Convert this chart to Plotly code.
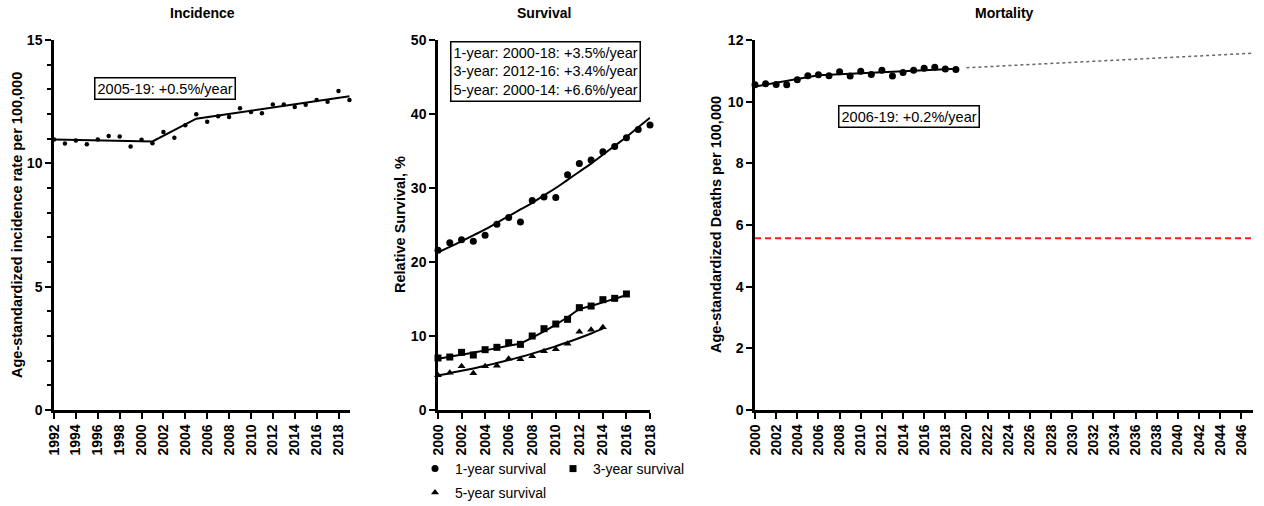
import plotly.graph_objects as go

# ---------------- data ----------------
inc_years = list(range(1992, 2020))
inc_rate = [10.97, 10.80, 10.93, 10.77, 10.97, 11.11, 11.09, 10.68, 10.96, 10.81,
            11.27, 11.04, 11.54, 11.99, 11.69, 11.91, 11.88, 12.23, 12.08, 12.03,
            12.39, 12.39, 12.28, 12.38, 12.57, 12.50, 12.93, 12.57]
inc_fit_years = [1992, 2001, 2005, 2019]
inc_fit = [10.97, 10.89, 11.81, 12.72]

surv1_years = list(range(2000, 2019))
surv1 = [21.6, 22.6, 23.0, 22.8, 23.6, 25.1, 26.0, 25.4, 28.3, 28.8,
         28.7, 31.8, 33.3, 33.8, 34.9, 35.6, 36.8, 37.9, 38.5]
surv1_fit = [21.3, 22.05, 22.8, 23.6, 24.4, 25.3, 26.2, 27.1, 28.0, 29.0,
             30.0, 31.1, 32.2, 33.3, 34.5, 35.7, 36.9, 38.2, 39.5]

surv3_years = list(range(2000, 2017))
surv3 = [7.03, 7.16, 7.79, 7.43, 8.15, 8.47, 9.10, 8.87, 10.0, 10.99,
         11.62, 12.25, 13.83, 14.05, 14.91, 15.09, 15.68]
surv3_fit = [6.94, 7.2, 7.48, 7.76, 8.06, 8.36, 8.68, 9.0, 9.78, 10.62,
             11.54, 12.53, 13.6, 14.06, 14.54, 15.03, 15.55]

surv5_years = list(range(2000, 2015))
surv5 = [4.7, 5.05, 5.9, 4.95, 5.9, 5.99, 6.94, 6.85, 7.25, 7.93,
         8.2, 8.96, 10.59, 10.86, 11.17]
surv5_fit = [4.68, 4.97, 5.29, 5.62, 5.97, 6.35, 6.75, 7.17, 7.62, 8.1,
             8.61, 9.15, 9.73, 10.34, 10.99]

mort_years = list(range(2000, 2020))
mort = [10.55, 10.58, 10.56, 10.55, 10.71, 10.84, 10.87, 10.84, 10.97, 10.83,
        10.99, 10.88, 11.02, 10.83, 10.95, 11.02, 11.08, 11.12, 11.06, 11.04]
mort_fit_years = [2000, 2006, 2019]
mort_fit = [10.49, 10.86, 11.07]
proj_years = [2020, 2047]
proj = [11.10, 11.57]
target_years = [2000, 2047.1]
target = [5.57, 5.57]

inc_ticks = list(range(1992, 2019, 2))
surv_ticks = list(range(2000, 2019, 2))
mort_ticks = list(range(2000, 2047, 2))

# ---------------- layout helpers ----------------
W, H = 1264, 506
L, R, T, B = 0, 0, 40, 96
PW, PH = W - L - R, H - T - B
FONT = "Arial, Liberation Sans, Helvetica, sans-serif"


def px(x):
    return (x - L) / PW


def py(y):
    return (H - B - y) / PH


fig = go.Figure()

line_style = dict(color="black", width=2)

# Incidence
fig.add_trace(go.Scatter(x=inc_years, y=inc_rate, mode="markers",
                         marker=dict(color="black", size=4.5), xaxis="x", yaxis="y",
                         showlegend=False, cliponaxis=False))
fig.add_trace(go.Scatter(x=inc_fit_years, y=inc_fit, mode="lines", line=line_style,
                         xaxis="x", yaxis="y", showlegend=False, cliponaxis=False))

# Survival
fig.add_trace(go.Scatter(x=surv1_years, y=surv1, mode="markers", name="1-year survival",
                         marker=dict(color="black", size=7, symbol="circle"),
                         xaxis="x2", yaxis="y2", legend="legend", cliponaxis=False))
fig.add_trace(go.Scatter(x=surv3_years, y=surv3, mode="markers", name="3-year survival",
                         marker=dict(color="black", size=7, symbol="square"),
                         xaxis="x2", yaxis="y2", legend="legend", cliponaxis=False))
fig.add_trace(go.Scatter(x=surv5_years, y=surv5, mode="markers", name="5-year survival",
                         marker=dict(color="black", size=7, symbol="triangle-up"),
                         xaxis="x2", yaxis="y2", legend="legend2", cliponaxis=False))
for xs, ys in [(surv1_years, surv1_fit), (surv3_years, surv3_fit), (surv5_years, surv5_fit)]:
    fig.add_trace(go.Scatter(x=xs, y=ys, mode="lines", line=dict(color="black", width=2, shape="spline"),
                             xaxis="x2", yaxis="y2", showlegend=False, cliponaxis=False))

# Mortality
fig.add_trace(go.Scatter(x=target_years, y=target, mode="lines",
                         line=dict(color="#ff1a1a", width=2, dash="6px,4px"),
                         xaxis="x3", yaxis="y3", showlegend=False))
fig.add_trace(go.Scatter(x=proj_years, y=proj, mode="lines",
                         line=dict(color="#666666", width=1.5, dash="dot"),
                         xaxis="x3", yaxis="y3", showlegend=False, cliponaxis=False))
fig.add_trace(go.Scatter(x=mort_years, y=mort, mode="markers",
                         marker=dict(color="black", size=7),
                         xaxis="x3", yaxis="y3", showlegend=False, cliponaxis=False))
fig.add_trace(go.Scatter(x=mort_fit_years, y=mort_fit, mode="lines", line=line_style,
                         xaxis="x3", yaxis="y3", showlegend=False, cliponaxis=False))

tickfont = dict(family=FONT, size=14, color="black", weight="bold")


def xax(domain, rng, ticks):
    return dict(domain=domain, range=rng, tickmode="array", tickvals=ticks,
                ticktext=[str(t) for t in ticks], tickangle=-90,
                showline=True, linecolor="black", linewidth=2.5,
                ticks="outside", ticklen=6, tickwidth=2, tickcolor="black",
                showgrid=False, zeroline=False, tickfont=tickfont, fixedrange=True,
                automargin=False)


def yax(anchor, rng, dtick, minor=None):
    d = dict(anchor=anchor, domain=[0, 1], range=rng, dtick=dtick, tick0=0,
             showline=True, linecolor="black", linewidth=2.5,
             ticks="outside", ticklen=6, tickwidth=2, tickcolor="black",
             showgrid=False, zeroline=False, tickfont=tickfont, fixedrange=True,
             automargin=False)
    if minor:
        d["minor"] = dict(dtick=minor, ticks="outside", ticklen=4, tickwidth=1.5,
                          tickcolor="black", showgrid=False)
    return d


fig.update_layout(
    width=W, height=H,
    margin=dict(l=L, r=R, t=T, b=B, autoexpand=False),
    plot_bgcolor="white", paper_bgcolor="white",
    font=dict(family=FONT, color="black"),
    xaxis=xax([px(54), px(350)], [1992, 2019.05], inc_ticks),
    yaxis=yax("x", [0, 15], 5, minor=1),
    xaxis2=dict(xax([px(438), px(650)], [2000, 2018], surv_ticks), anchor="y2"),
    yaxis2=yax("x2", [0, 50], 10),
    xaxis3=dict(xax([px(755), px(1253)], [2000, 2047.1], mort_ticks), anchor="y3"),
    yaxis3=yax("x3", [0, 12], 2),
    legend=dict(orientation="h", x=px(415), y=py(453), xanchor="left", yanchor="top",
                font=dict(family=FONT, size=14, color="black"), entrywidth=93,
                bgcolor="rgba(0,0,0,0)", itemwidth=30, tracegroupgap=0),
    legend2=dict(orientation="h", x=px(415), y=py(477), xanchor="left", yanchor="top",
                 font=dict(family=FONT, size=14, color="black"),
                 bgcolor="rgba(0,0,0,0)", itemwidth=30),
)

ann = []
titlefont = dict(family=FONT, size=14, color="black", weight="bold")
for text, cx in [("Incidence", 202), ("Survival", 544), ("Mortality", 1004)]:
    ann.append(dict(text=text, x=px(cx), y=py(13), xref="paper", yref="paper",
                    showarrow=False, font=titlefont, xanchor="center", yanchor="middle"))

axfont = dict(family=FONT, size=14.5, color="black", weight="bold")
for text, cx in [("Age-standardized incidence rate per 100,000", 17),
                 ("Relative Survival, %", 400),
                 ("Age-standardized Deaths per 100,000", 716)]:
    ann.append(dict(text=text, x=px(cx), y=py(225), xref="paper", yref="paper",
                    showarrow=False, font=axfont, textangle=-90,
                    xanchor="center", yanchor="middle"))

boxfont = dict(family=FONT, size=14.5, color="black")
ann.append(dict(text="2005-19: +0.5%/year", x=px(164.5), y=py(88.5), xref="paper", yref="paper",
                showarrow=False, font=boxfont, bordercolor="black", borderwidth=1.5,
                borderpad=2, bgcolor="white", xanchor="center", yanchor="middle"))
ann.append(dict(text="1-year: 2000-18: +3.5%/year<br>3-year: 2012-16: +3.4%/year<br>5-year: 2000-14: +6.6%/year",
                x=px(545), y=py(71), xref="paper", yref="paper", align="left",
                showarrow=False, font=boxfont, bordercolor="black", borderwidth=1.5,
                borderpad=2, bgcolor="white", xanchor="center", yanchor="middle"))
ann.append(dict(text="2006-19: +0.2%/year", x=px(909), y=py(116.5), xref="paper", yref="paper",
                showarrow=False, font=boxfont, bordercolor="black", borderwidth=1.5,
                borderpad=2, bgcolor="white", xanchor="center", yanchor="middle"))
fig.update_layout(annotations=ann)

fig.write_html("out.html", config={"displayModeBar": False},
               post_script="document.body.style.margin='0px';")
